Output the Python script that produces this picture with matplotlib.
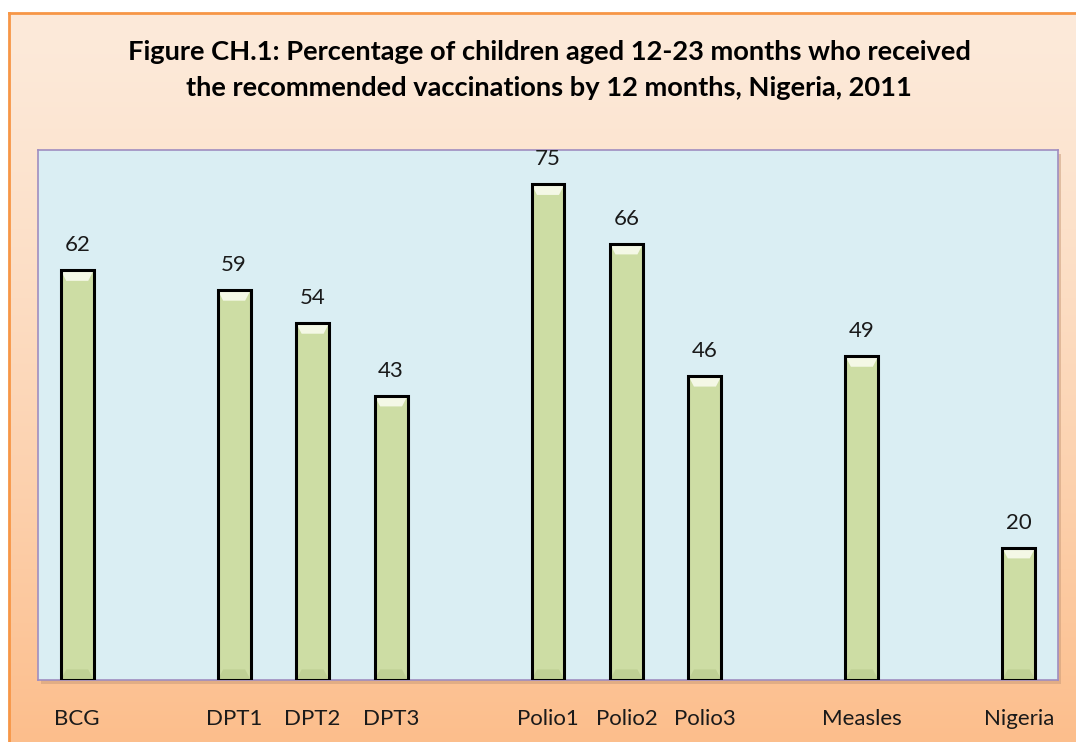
import numpy as np
import matplotlib.pyplot as plt
from matplotlib.patches import Rectangle, Polygon

# vaccination coverage, Nigeria 2011
labels = ['BCG', 'DPT1', 'DPT2', 'DPT3', 'Polio1', 'Polio2', 'Polio3', 'Measles', 'Nigeria']
values = [62, 59, 54, 43, 75, 66, 46, 49, 20]
# slot index of each bar (empty slots separate the groups)
slots = [0, 2, 3, 4, 6, 7, 8, 10, 12]

plt.rcParams['font.family'] = ['Lato', 'DejaVu Sans']

fig = plt.figure(figsize=(10.76, 7.42), dpi=100)
fig.patch.set_facecolor('white')

# orange gradient frame behind everything
bg = fig.add_axes([9 / 1076, 0, 1 - 9 / 1076, 1 - 13 / 742], zorder=0)
grad = np.linspace(0, 1, 256).reshape(-1, 1)
top_col = np.array([253, 234, 218]) / 255
bot_col = np.array([252, 190, 140]) / 255
img = top_col + (bot_col - top_col) * grad[:, :, None] ** 1.3
bg.imshow(img, aspect='auto', extent=[0, 1, 0, 1], origin='upper')
bg.set_xlim(0, 1)
bg.set_ylim(0, 1)
bg.set_xticks([])
bg.set_yticks([])
for side in ['right', 'bottom']:
    bg.spines[side].set_visible(False)
for side in ['top', 'left']:
    bg.spines[side].set_color('#F79646')
    bg.spines[side].set_linewidth(2)

left, right = 38 / 1076, 1058 / 1076
bottom, top = 62 / 742, 592 / 742

# drop shadow of the plot area
fig.patches.append(Rectangle((left + 3 / 1076, bottom - 4 / 742), right - left, top - bottom,
                             transform=fig.transFigure, facecolor='#C89A78', alpha=0.5,
                             edgecolor='none', zorder=1))

ax = fig.add_axes([left, bottom, right - left, top - bottom], zorder=2)
ax.set_facecolor('#DAEEF3')
for s in ax.spines.values():
    s.set_color('#9F8DC0')
    s.set_linewidth(1.2)

width = 0.42
ax.bar(slots, values, width=width, color='#CDDDA4', edgecolor='none', zorder=3)
# light bevel at the top and a soft one at the bottom of each bar
dw, dh = 0.07, 1.6
for x, v in zip(slots, values):
    x0, x1 = x - width / 2, x + width / 2
    ax.add_patch(Polygon([(x0, v), (x1, v), (x1 - dw, v - dh), (x0 + dw, v - dh)],
                         closed=True, facecolor='#F4F8E6', edgecolor='none', zorder=3.5))
    ax.add_patch(Polygon([(x0, 0), (x1, 0), (x1 - dw, dh), (x0 + dw, dh)],
                         closed=True, facecolor='#BFD094', edgecolor='none', zorder=3.5))
ax.bar(slots, values, width=width, color='none', edgecolor='black', linewidth=2.2, zorder=4)

for x, v in zip(slots, values):
    ax.text(x, v + 2.3, str(v), ha='center', va='bottom', fontsize=16, color='#1a1a1a')

ax.set_xlim(-0.5, 12.5)
ax.set_ylim(0, 80.2)
ax.set_yticks([])
ax.set_xticks(slots)
ax.set_xticklabels(labels, fontsize=16, color='#1a1a1a')
ax.tick_params(axis='x', length=0, pad=21)

fig.text(549 / 1076, 1 - 52 / 742, 'Figure CH.1: Percentage of children aged 12-23 months who received',
         ha='center', va='center', fontsize=19.6, fontweight='bold')
fig.text(549 / 1076, 1 - 88 / 742, 'the recommended vaccinations by 12 months, Nigeria, 2011',
         ha='center', va='center', fontsize=19.6, fontweight='bold')

fig.savefig('out.png', dpi=100, facecolor=fig.get_facecolor())
